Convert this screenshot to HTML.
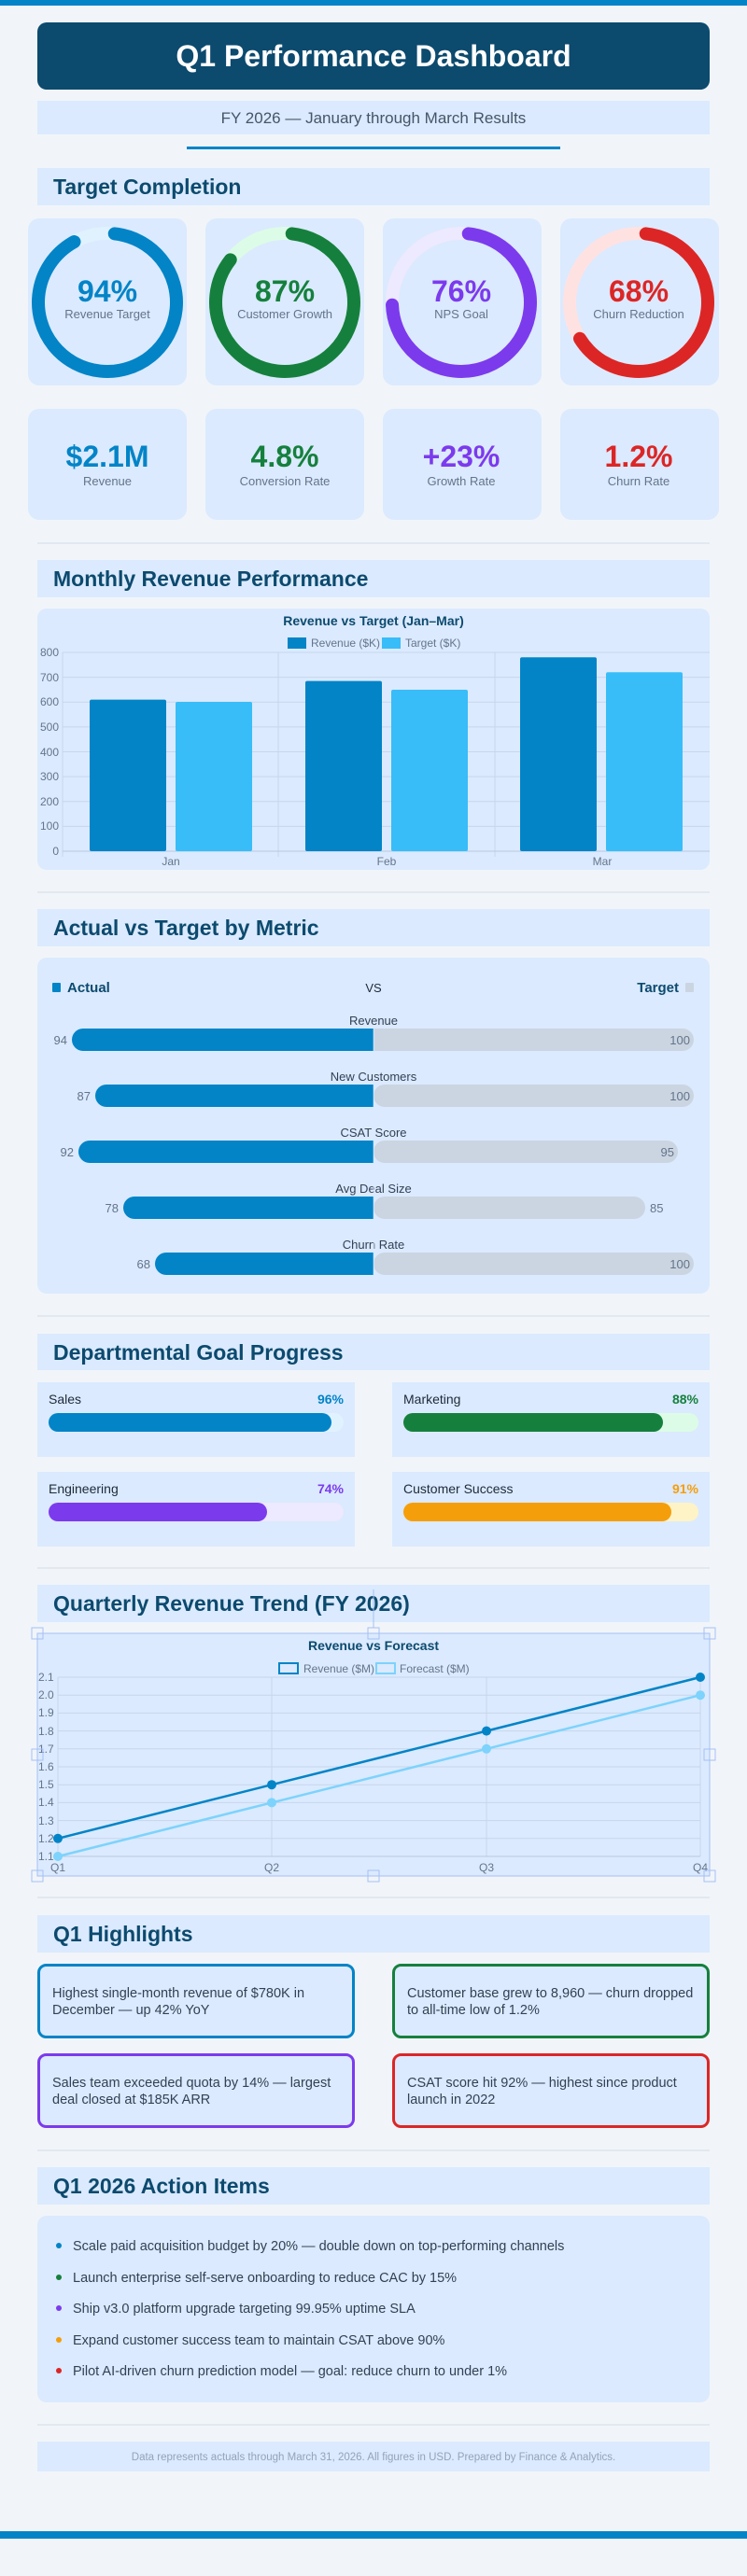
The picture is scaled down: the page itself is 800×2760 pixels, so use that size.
<!DOCTYPE html>
<html><head><meta charset="utf-8"><style>
html,body{margin:0;padding:0;background:#f1f5f9;}
svg{display:block;font-family:"Liberation Sans",Arial,sans-serif;}
</style></head><body>
<svg width="800" height="2760" viewBox="0 0 800 2760" xmlns="http://www.w3.org/2000/svg">
<rect width="800" height="2760" fill="#f1f5f9"/>
<rect x="0" y="0" width="800" height="6" fill="#0284c7"/>
<!-- header -->
<rect x="40" y="24" width="720" height="72" rx="10" fill="#0c4a6e"/>
<text x="400" y="71" text-anchor="middle" font-size="32" font-weight="bold" fill="#fff">Q1 Performance Dashboard</text>
<rect x="40" y="108" width="720" height="36" fill="#dbeafe"/>
<text x="400" y="132" text-anchor="middle" font-size="17" fill="#475569">FY 2026 — January through March Results</text>
<rect x="200" y="157" width="400" height="3" fill="#0284c7"/>

<!-- Target Completion -->
<rect x="40" y="180" width="720" height="40" fill="#dbeafe"/>
<text x="57" y="208" font-size="23" font-weight="bold" fill="#0c4a6e">Target Completion</text>
<g>
<rect x="30" y="234" width="170" height="179" rx="12" fill="#dbeafe"/>
<rect x="220" y="234" width="170" height="179" rx="12" fill="#dbeafe"/>
<rect x="410" y="234" width="170" height="179" rx="12" fill="#dbeafe"/>
<rect x="600" y="234" width="170" height="179" rx="12" fill="#dbeafe"/>
<circle cx="115" cy="324" r="74" fill="none" stroke="#e0f2fe" stroke-width="14"/>
<circle cx="115" cy="324" r="74" fill="none" stroke="#0284c7" stroke-width="14" stroke-linecap="round" stroke-dasharray="420 465" transform="rotate(-84 115 324)"/>
<circle cx="305" cy="324" r="74" fill="none" stroke="#dcfce7" stroke-width="14"/>
<circle cx="305" cy="324" r="74" fill="none" stroke="#15803d" stroke-width="14" stroke-linecap="round" stroke-dasharray="390 465" transform="rotate(-84 305 324)"/>
<circle cx="494" cy="324" r="74" fill="none" stroke="#ede9fe" stroke-width="14"/>
<circle cx="494" cy="324" r="74" fill="none" stroke="#7c3aed" stroke-width="14" stroke-linecap="round" stroke-dasharray="338 465" transform="rotate(-84 494 324)"/>
<circle cx="684" cy="324" r="74" fill="none" stroke="#fee2e2" stroke-width="14"/>
<circle cx="684" cy="324" r="74" fill="none" stroke="#dc2626" stroke-width="14" stroke-linecap="round" stroke-dasharray="300 465" transform="rotate(-84 684 324)"/>
<g font-size="32" font-weight="bold" text-anchor="middle">
<text x="115" y="323" fill="#0284c7">94%</text>
<text x="305" y="323" fill="#15803d">87%</text>
<text x="494" y="323" fill="#7c3aed">76%</text>
<text x="684" y="323" fill="#dc2626">68%</text>
</g>
<g font-size="13" text-anchor="middle" fill="#64748b">
<text x="115" y="341">Revenue Target</text>
<text x="305" y="341">Customer Growth</text>
<text x="494" y="341">NPS Goal</text>
<text x="684" y="341">Churn Reduction</text>
</g>
</g>
<g>
<rect x="30" y="438" width="170" height="119" rx="12" fill="#dbeafe"/>
<rect x="220" y="438" width="170" height="119" rx="12" fill="#dbeafe"/>
<rect x="410" y="438" width="170" height="119" rx="12" fill="#dbeafe"/>
<rect x="600" y="438" width="170" height="119" rx="12" fill="#dbeafe"/>
<g font-size="32" font-weight="bold" text-anchor="middle">
<text x="115" y="500" fill="#0284c7">$2.1M</text>
<text x="305" y="500" fill="#15803d">4.8%</text>
<text x="494" y="500" fill="#7c3aed">+23%</text>
<text x="684" y="500" fill="#dc2626">1.2%</text>
</g>
<g font-size="13" text-anchor="middle" fill="#64748b">
<text x="115" y="520">Revenue</text>
<text x="305" y="520">Conversion Rate</text>
<text x="494" y="520">Growth Rate</text>
<text x="684" y="520">Churn Rate</text>
</g>
</g>
<rect x="40" y="581" width="720" height="2" fill="#e2e8f0"/>

<!-- Monthly Revenue -->
<rect x="40" y="600" width="720" height="40" fill="#dbeafe"/>
<text x="57" y="628" font-size="23" font-weight="bold" fill="#0c4a6e">Monthly Revenue Performance</text>
<rect x="40" y="652" width="720" height="280" rx="10" fill="#dbeafe"/>
<text x="400" y="670" text-anchor="middle" font-size="14" font-weight="bold" fill="#0c4a6e">Revenue vs Target (Jan–Mar)</text>
<rect x="308" y="683" width="20" height="12" fill="#0284c7"/>
<text x="333" y="693" font-size="12" fill="#64748b">Revenue ($K)</text>
<rect x="409" y="683" width="20" height="12" fill="#38bdf8"/>
<text x="434" y="693" font-size="12" fill="#64748b">Target ($K)</text>
<g stroke="#c7d6ea" stroke-width="1">
<line x1="67" y1="699" x2="760" y2="699"/><line x1="67" y1="725.6" x2="760" y2="725.6"/>
<line x1="67" y1="752.3" x2="760" y2="752.3"/><line x1="67" y1="778.9" x2="760" y2="778.9"/>
<line x1="67" y1="805.5" x2="760" y2="805.5"/><line x1="67" y1="832.1" x2="760" y2="832.1"/>
<line x1="67" y1="858.8" x2="760" y2="858.8"/><line x1="67" y1="885.4" x2="760" y2="885.4"/>
<line x1="298" y1="699" x2="298" y2="918"/><line x1="530" y1="699" x2="530" y2="918"/>
<line x1="67" y1="699" x2="67" y2="918"/>
</g>
<line x1="67" y1="912" x2="760" y2="912" stroke="#b8c8de"/>
<g font-size="12" fill="#64748b" text-anchor="end">
<text x="63" y="703">800</text><text x="63" y="730">700</text><text x="63" y="756">600</text>
<text x="63" y="783">500</text><text x="63" y="810">400</text><text x="63" y="836">300</text>
<text x="63" y="863">200</text><text x="63" y="889">100</text><text x="63" y="916">0</text>
</g>
<g>
<rect x="96" y="749.6" width="82" height="162.4" rx="2" fill="#0284c7"/>
<rect x="188" y="752" width="82" height="160" rx="2" fill="#38bdf8"/>
<rect x="327" y="729.6" width="82" height="182.4" rx="2" fill="#0284c7"/>
<rect x="419" y="739" width="82" height="173" rx="2" fill="#38bdf8"/>
<rect x="557" y="704.3" width="82" height="207.7" rx="2" fill="#0284c7"/>
<rect x="649" y="720.3" width="82" height="191.7" rx="2" fill="#38bdf8"/>
</g>
<g font-size="12" fill="#64748b" text-anchor="middle">
<text x="183" y="927">Jan</text><text x="414" y="927">Feb</text><text x="645" y="927">Mar</text>
</g>
<rect x="40" y="955" width="720" height="2" fill="#e2e8f0"/>

<!-- Actual vs Target -->
<rect x="40" y="974" width="720" height="40" fill="#dbeafe"/>
<text x="57" y="1002" font-size="23" font-weight="bold" fill="#0c4a6e">Actual vs Target by Metric</text>
<rect x="40" y="1026" width="720" height="360" rx="10" fill="#dbeafe"/>
<rect x="56" y="1053" width="9" height="10" rx="1" fill="#0284c7"/>
<text x="72" y="1063" font-size="15" font-weight="bold" fill="#0c4a6e">Actual</text>
<text x="400" y="1063" font-size="13" text-anchor="middle" fill="#1e293b">VS</text>
<text x="727" y="1063" font-size="15" font-weight="bold" text-anchor="end" fill="#0c4a6e">Target</text>
<rect x="734" y="1053" width="9" height="10" rx="1" fill="#cbd5e1"/>
<g font-size="13" fill="#334155" text-anchor="middle">
<text x="400" y="1098">Revenue</text>
<text x="400" y="1158">New Customers</text>
<text x="400" y="1218">CSAT Score</text>
<text x="400" y="1278">Avg Deal Size</text>
<text x="400" y="1338">Churn Rate</text>
</g>
<g>
<rect x="400" y="1102" width="343" height="24" rx="12" fill="#cbd5e1"/><rect x="400" y="1102" width="12" height="24" fill="#cbd5e1"/>
<rect x="77" y="1102" width="323" height="24" rx="12" fill="#0284c7"/><rect x="388" y="1102" width="12" height="24" fill="#0284c7"/>
<rect x="400" y="1162" width="343" height="24" rx="12" fill="#cbd5e1"/>
<rect x="102" y="1162" width="298" height="24" rx="12" fill="#0284c7"/><rect x="388" y="1162" width="12" height="24" fill="#0284c7"/>
<rect x="400" y="1222" width="326" height="24" rx="12" fill="#cbd5e1"/>
<rect x="84" y="1222" width="316" height="24" rx="12" fill="#0284c7"/><rect x="388" y="1222" width="12" height="24" fill="#0284c7"/>
<rect x="400" y="1282" width="291" height="24" rx="12" fill="#cbd5e1"/>
<rect x="132" y="1282" width="268" height="24" rx="12" fill="#0284c7"/><rect x="388" y="1282" width="12" height="24" fill="#0284c7"/>
<rect x="400" y="1342" width="343" height="24" rx="12" fill="#cbd5e1"/>
<rect x="166" y="1342" width="234" height="24" rx="12" fill="#0284c7"/><rect x="388" y="1342" width="12" height="24" fill="#0284c7"/>
<rect x="399.5" y="1100" width="1.5" height="270" fill="#dbeafe" opacity="0.6"/>
</g>
<g font-size="13" fill="#64748b">
<text x="72" y="1119" text-anchor="end">94</text>
<text x="97" y="1179" text-anchor="end">87</text>
<text x="79" y="1239" text-anchor="end">92</text>
<text x="127" y="1299" text-anchor="end">78</text>
<text x="161" y="1359" text-anchor="end">68</text>
<text x="739" y="1119" text-anchor="end">100</text>
<text x="739" y="1179" text-anchor="end">100</text>
<text x="722" y="1239" text-anchor="end">95</text>
<text x="696" y="1299">85</text>
<text x="739" y="1359" text-anchor="end">100</text>
</g>
<rect x="40" y="1409" width="720" height="2" fill="#e2e8f0"/>

<!-- Departmental -->
<rect x="40" y="1429" width="720" height="39" fill="#dbeafe"/>
<text x="57" y="1457" font-size="23" font-weight="bold" fill="#0c4a6e">Departmental Goal Progress</text>
<g>
<rect x="40" y="1481" width="340" height="80" fill="#dbeafe"/>
<rect x="420" y="1481" width="340" height="80" fill="#dbeafe"/>
<rect x="40" y="1577" width="340" height="80" fill="#dbeafe"/>
<rect x="420" y="1577" width="340" height="80" fill="#dbeafe"/>
<g font-size="14" fill="#1e293b">
<text x="52" y="1504">Sales</text><text x="432" y="1504">Marketing</text>
<text x="52" y="1600">Engineering</text><text x="432" y="1600">Customer Success</text>
</g>
<g font-size="14" font-weight="bold" text-anchor="end">
<text x="368" y="1504" fill="#0284c7">96%</text><text x="748" y="1504" fill="#15803d">88%</text>
<text x="368" y="1600" fill="#7c3aed">74%</text><text x="748" y="1600" fill="#f59e0b">91%</text>
</g>
<rect x="52" y="1514" width="316" height="20" rx="10" fill="#e0f2fe"/>
<rect x="52" y="1514" width="303" height="20" rx="10" fill="#0284c7"/>
<rect x="432" y="1514" width="316" height="20" rx="10" fill="#dcfce7"/>
<rect x="432" y="1514" width="278" height="20" rx="10" fill="#15803d"/>
<rect x="52" y="1610" width="316" height="20" rx="10" fill="#ede9fe"/>
<rect x="52" y="1610" width="234" height="20" rx="10" fill="#7c3aed"/>
<rect x="432" y="1610" width="316" height="20" rx="10" fill="#fef3c7"/>
<rect x="432" y="1610" width="287" height="20" rx="10" fill="#f59e0b"/>
</g>
<rect x="40" y="1679" width="720" height="2" fill="#e2e8f0"/>

<!-- Quarterly trend -->
<rect x="40" y="1698" width="720" height="40" fill="#dbeafe"/>
<text x="57" y="1726" font-size="23" font-weight="bold" fill="#0c4a6e">Quarterly Revenue Trend (FY 2026)</text>
<rect x="40" y="1750" width="720" height="260" fill="#dbeafe" stroke="#a5c0f5" stroke-width="1"/>
<text x="400" y="1768" text-anchor="middle" font-size="14" font-weight="bold" fill="#0c4a6e">Revenue vs Forecast</text>
<rect x="299" y="1782" width="20" height="11" fill="#dbeafe" stroke="#0284c7" stroke-width="2"/>
<text x="325" y="1792" font-size="12" fill="#64748b">Revenue ($M)</text>
<rect x="403" y="1782" width="20" height="11" fill="#dbeafe" stroke="#7dd3fc" stroke-width="2"/>
<text x="428" y="1792" font-size="12" fill="#64748b">Forecast ($M)</text>
<g stroke="#c7d6ea" stroke-width="1">
<line x1="62" y1="1797" x2="750" y2="1797"/><line x1="62" y1="1816.2" x2="750" y2="1816.2"/>
<line x1="62" y1="1835.4" x2="750" y2="1835.4"/><line x1="62" y1="1854.6" x2="750" y2="1854.6"/>
<line x1="62" y1="1873.8" x2="750" y2="1873.8"/><line x1="62" y1="1893" x2="750" y2="1893"/>
<line x1="62" y1="1912.2" x2="750" y2="1912.2"/><line x1="62" y1="1931.4" x2="750" y2="1931.4"/>
<line x1="62" y1="1950.6" x2="750" y2="1950.6"/><line x1="62" y1="1969.8" x2="750" y2="1969.8"/>
<line x1="62" y1="1797" x2="62" y2="1989"/><line x1="291" y1="1797" x2="291" y2="1989"/>
<line x1="521" y1="1797" x2="521" y2="1989"/><line x1="750" y1="1797" x2="750" y2="1989"/>
</g>
<line x1="62" y1="1989" x2="750" y2="1989" stroke="#b8c8de"/>
<g font-size="12" fill="#64748b">
<text x="41" y="1801">2.1</text><text x="41" y="1820">2.0</text><text x="41" y="1839">1.9</text>
<text x="41" y="1859">1.8</text><text x="41" y="1878">1.7</text><text x="41" y="1897">1.6</text>
<text x="41" y="1916">1.5</text><text x="41" y="1935">1.4</text><text x="41" y="1955">1.3</text>
<text x="41" y="1974">1.2</text><text x="41" y="1993">1.1</text>
</g>
<g font-size="12" fill="#64748b" text-anchor="middle">
<text x="62" y="2005">Q1</text><text x="291" y="2005">Q2</text><text x="521" y="2005">Q3</text><text x="750" y="2005">Q4</text>
</g>
<polyline points="62,1989 291,1931.4 521,1873.8 750,1816.2" fill="none" stroke="#7dd3fc" stroke-width="2.5"/>
<polyline points="62,1969.8 291,1912.2 521,1854.6 750,1797" fill="none" stroke="#0284c7" stroke-width="2.5"/>
<g fill="#7dd3fc"><circle cx="62" cy="1989" r="5"/><circle cx="291" cy="1931.4" r="5"/><circle cx="521" cy="1873.8" r="5"/><circle cx="750" cy="1816.2" r="5"/></g>
<g fill="#0284c7"><circle cx="62" cy="1969.8" r="5"/><circle cx="291" cy="1912.2" r="5"/><circle cx="521" cy="1854.6" r="5"/><circle cx="750" cy="1797" r="5"/></g>
<g fill="none" stroke="#a5c0f5" stroke-width="1">
<line x1="400" y1="1703" x2="400" y2="1744"/>
<rect x="34" y="1744" width="12" height="12"/><rect x="394" y="1744" width="12" height="12"/><rect x="754" y="1744" width="12" height="12"/>
<rect x="34" y="1874" width="12" height="12"/><rect x="754" y="1874" width="12" height="12"/>
<rect x="34" y="2004" width="12" height="12"/><rect x="394" y="2004" width="12" height="12"/><rect x="754" y="2004" width="12" height="12"/>
</g>
<rect x="40" y="2032" width="720" height="2" fill="#e2e8f0"/>

<!-- Highlights -->
<rect x="40" y="2052" width="720" height="40" fill="#dbeafe"/>
<text x="57" y="2080" font-size="23" font-weight="bold" fill="#0c4a6e">Q1 Highlights</text>
<rect x="41.5" y="2105.5" width="337" height="77" rx="8" fill="#dbeafe" stroke="#0284c7" stroke-width="3"/>
<rect x="421.5" y="2105.5" width="337" height="77" rx="8" fill="#dbeafe" stroke="#15803d" stroke-width="3"/>
<rect x="41.5" y="2201.5" width="337" height="77" rx="8" fill="#dbeafe" stroke="#7c3aed" stroke-width="3"/>
<rect x="421.5" y="2201.5" width="337" height="77" rx="8" fill="#dbeafe" stroke="#dc2626" stroke-width="3"/>
<g font-size="14.5" fill="#334155">
<text x="56" y="2140">Highest single-month revenue of $780K in</text>
<text x="56" y="2158">December — up 42% YoY</text>
<text x="436" y="2140">Customer base grew to 8,960 — churn dropped</text>
<text x="436" y="2158">to all-time low of 1.2%</text>
<text x="56" y="2236">Sales team exceeded quota by 14% — largest</text>
<text x="56" y="2254">deal closed at $185K ARR</text>
<text x="436" y="2236">CSAT score hit 92% — highest since product</text>
<text x="436" y="2254">launch in 2022</text>
</g>
<rect x="40" y="2303" width="720" height="2" fill="#e2e8f0"/>

<!-- Action Items -->
<rect x="40" y="2322" width="720" height="40" fill="#dbeafe"/>
<text x="57" y="2350" font-size="23" font-weight="bold" fill="#0c4a6e">Q1 2026 Action Items</text>
<rect x="40" y="2374" width="720" height="200" rx="10" fill="#dbeafe"/>
<circle cx="63" cy="2406" r="3" fill="#0284c7"/>
<circle cx="63" cy="2440" r="3" fill="#15803d"/>
<circle cx="63" cy="2473" r="3" fill="#7c3aed"/>
<circle cx="63" cy="2507" r="3" fill="#f59e0b"/>
<circle cx="63" cy="2540" r="3" fill="#dc2626"/>
<g font-size="14.5" fill="#334155">
<text x="78" y="2411">Scale paid acquisition budget by 20% — double down on top-performing channels</text>
<text x="78" y="2445">Launch enterprise self-serve onboarding to reduce CAC by 15%</text>
<text x="78" y="2478">Ship v3.0 platform upgrade targeting 99.95% uptime SLA</text>
<text x="78" y="2512">Expand customer success team to maintain CSAT above 90%</text>
<text x="78" y="2545">Pilot AI-driven churn prediction model — goal: reduce churn to under 1%</text>
</g>
<rect x="40" y="2597" width="720" height="2" fill="#e2e8f0"/>
<rect x="40" y="2616" width="720" height="32" fill="#dbeafe"/>
<text x="400" y="2636" text-anchor="middle" font-size="11.5" fill="#94a3b8">Data represents actuals through March 31, 2026. All figures in USD. Prepared by Finance &amp; Analytics.</text>
<rect x="0" y="2712" width="800" height="8" fill="#0284c7"/>
</svg>
</body></html>
